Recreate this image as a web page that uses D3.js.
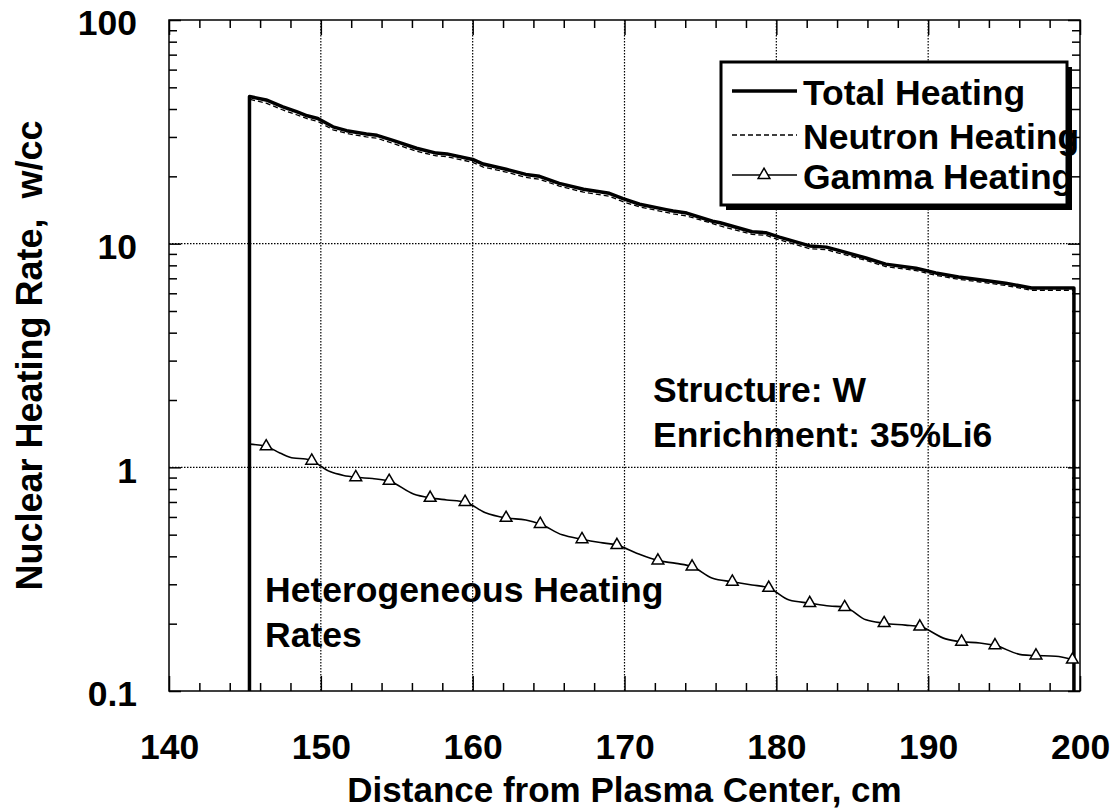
<!DOCTYPE html>
<html>
<head>
<meta charset="utf-8">
<script src="https://cdn.jsdelivr.net/npm/d3@7"></script>
<style>
  body { margin: 0; background: #fff; }
  text { font-family: "Liberation Sans", Arial, sans-serif; font-weight: bold; fill: #000; }
</style>
</head>
<body>
<div id="chart"></div>
<script>
// Heating rate data
const totalX = [145.3, 145.3, 146.4, 147.5, 148.4, 149.1, 149.8, 150.8, 151.7, 153.0, 153.7, 154.8, 156.3, 157.6, 158.3,
  160.0, 160.7, 162.2, 163.5, 164.4, 165.7, 167.3, 169.0, 169.9, 171.0, 172.75, 173.2, 174.1, 175.8, 176.3, 178.4, 179.3,
  180.2, 182.2, 183.3, 184.1, 185.9, 187.2, 189.2, 190.5, 192.0, 193.4, 195.1, 196.8, 199.6, 199.6];
const totalY = [0.01, 45.5, 43.9, 40.9, 38.9, 37.3, 36.3, 33.3, 32.0, 30.9, 30.5, 28.9, 26.7, 25.4, 25.2,
  23.8, 22.7, 21.5, 20.4, 20.0, 18.6, 17.5, 16.8, 15.9, 15.0, 14.2, 14.0, 13.7, 12.6, 12.4, 11.3, 11.2,
  10.7, 9.77, 9.65, 9.33, 8.63, 8.1, 7.77, 7.4, 7.1, 6.9, 6.66, 6.33, 6.33, 0.01];
const neutronY = [0.01, 44.2, 42.5, 39.6, 37.7, 36.2, 35.2, 32.3, 31.1, 30.0, 29.6, 28.0, 25.9, 24.7, 24.5,
  23.1, 22.0, 20.9, 19.8, 19.4, 18.1, 17.0, 16.3, 15.4, 14.6, 13.8, 13.6, 13.3, 12.3, 12.0, 11.0, 10.9,
  10.4, 9.5, 9.4, 9.08, 8.42, 7.9, 7.58, 7.22, 6.93, 6.74, 6.5, 6.19, 6.19, 0.01];

const gammaX = [145.3, 146.4, 147.3, 148.2, 149.0, 149.4, 150.6, 151.5, 152.3, 153.4, 154.5, 156.1, 157.2, 158.3, 159.5,
  160.8, 162.2, 163.5, 164.45, 165.9, 167.2, 168.4, 169.5, 170.8, 172.2, 173.4, 174.45, 175.8, 177.1, 178.4, 179.5,
  180.85, 182.2, 183.5, 184.5, 185.9, 187.1, 188.5, 189.45, 191.15, 192.2, 193.4, 194.4, 196.2, 197.1, 198.4, 199.5];
const gammaY = [1.27, 1.24, 1.16, 1.10, 1.09, 1.07, 0.957, 0.92, 0.903, 0.891, 0.869, 0.760, 0.73, 0.715, 0.70,
  0.628, 0.594, 0.582, 0.558, 0.499, 0.477, 0.461, 0.449, 0.413, 0.383, 0.372, 0.360, 0.319, 0.308, 0.298, 0.289,
  0.255, 0.247, 0.240, 0.237, 0.208, 0.201, 0.197, 0.194, 0.171, 0.166, 0.164, 0.160, 0.145, 0.144, 0.143, 0.138];
const gammaMarkX = [146.4, 149.4, 152.3, 154.5, 157.2, 159.5, 162.2, 164.45, 167.2, 169.5, 172.2, 174.45,
  177.1, 179.5, 182.2, 184.5, 187.1, 189.45, 192.2, 194.4, 197.1, 199.5];
const gammaMarkY = [1.24, 1.07, 0.903, 0.869, 0.73, 0.70, 0.594, 0.558, 0.477, 0.449, 0.383, 0.360,
  0.308, 0.289, 0.247, 0.237, 0.201, 0.194, 0.166, 0.160, 0.144, 0.138];

const xTicks = [140, 150, 160, 170, 180, 190, 200];
const yTicks = [0.1, 1, 10, 100];
const legendLabels = ['Total Heating', 'Neutron Heating', 'Gamma Heating'];
const noteLines = ['Structure: W', 'Enrichment: 35%Li6'];
const noteLines2 = ['Heterogeneous Heating', 'Rates'];

const width = 1120, height = 810;
const margin = { left: 169, top: 20, right: 40, bottom: 119 };
const plotW = width - margin.left - margin.right;
const plotH = height - margin.top - margin.bottom;
const FONT = '35.5px';

const svg = d3.select('#chart').append('svg')
  .attr('width', width).attr('height', height);

const x = d3.scaleLinear().domain([140, 200]).range([0, plotW]);
const y = d3.scaleLog().domain([0.1, 100]).range([plotH, 0]);

const g = svg.append('g').attr('transform', `translate(${margin.left},${margin.top})`);

g.append('clipPath').attr('id', 'plot-clip')
  .append('rect').attr('width', plotW).attr('height', plotH);

// grid (dotted, majors only)
g.append('g').selectAll('line')
  .data(xTicks.slice(1, -1)).enter().append('line')
  .attr('x1', d => x(d)).attr('x2', d => x(d))
  .attr('y1', 0).attr('y2', plotH)
  .attr('stroke', '#000').attr('stroke-width', 1.2).attr('stroke-dasharray', '1.5,1.5');
g.append('g').selectAll('line')
  .data(yTicks.slice(1, -1)).enter().append('line')
  .attr('y1', d => y(d)).attr('y2', d => y(d))
  .attr('x1', 0).attr('x2', plotW)
  .attr('stroke', '#000').attr('stroke-width', 1.2).attr('stroke-dasharray', '1.5,1.5');

// ticks
const xMinor = d3.range(140, 201, 2).filter(d => d % 10 !== 0);
const yMinor = [];
[0.1, 1, 10].forEach(dec => { for (let k = 2; k <= 9; k++) yMinor.push(dec * k); });

function styleAxis (sel) {
  sel.select('.domain').remove();
  sel.selectAll('line').attr('stroke', '#000').attr('stroke-width', 1.5);
  sel.selectAll('text').style('font-size', FONT);
}

g.append('g').attr('transform', `translate(0,${plotH})`)
  .call(d3.axisBottom(x).tickValues(xTicks).tickSizeInner(-15).tickSizeOuter(0)
    .tickPadding(43).tickFormat(d3.format('d')))
  .call(styleAxis);
g.append('g').attr('transform', `translate(0,${plotH})`)
  .call(d3.axisBottom(x).tickValues(xMinor).tickSize(-8).tickFormat(''))
  .call(styleAxis);
g.append('g')
  .call(d3.axisTop(x).tickValues(xTicks).tickSize(-15).tickFormat(''))
  .call(styleAxis);
g.append('g')
  .call(d3.axisTop(x).tickValues(xMinor).tickSize(-8).tickFormat(''))
  .call(styleAxis);

g.append('g')
  .call(d3.axisLeft(y).tickValues(yTicks).tickSizeInner(-12).tickSizeOuter(0)
    .tickPadding(32).tickFormat(d3.format('~g')))
  .call(styleAxis)
  .selectAll('text').attr('dy', '0.42em');
g.append('g')
  .call(d3.axisLeft(y).tickValues(yMinor).tickSize(-8).tickFormat(''))
  .call(styleAxis);
g.append('g').attr('transform', `translate(${plotW},0)`)
  .call(d3.axisRight(y).tickValues(yTicks).tickSize(-12).tickFormat(''))
  .call(styleAxis);
g.append('g').attr('transform', `translate(${plotW},0)`)
  .call(d3.axisRight(y).tickValues(yMinor).tickSize(-8).tickFormat(''))
  .call(styleAxis);

// frame
g.append('rect').attr('width', plotW).attr('height', plotH)
  .attr('fill', 'none').attr('stroke', '#000').attr('stroke-width', 1.5);

// series
const data = g.append('g').attr('clip-path', 'url(#plot-clip)');

const stepLine = d3.line().x(d => x(d[0])).y(d => y(d[1]));
const smoothLine = d3.line().x(d => x(d[0])).y(d => y(d[1])).curve(d3.curveMonotoneX);

data.append('path')
  .datum(totalX.map((v, i) => [v, neutronY[i]]))
  .attr('d', stepLine)
  .attr('fill', 'none').attr('stroke', '#000').attr('stroke-width', 1.3)
  .attr('stroke-dasharray', '5,3');

data.append('path')
  .datum(totalX.map((v, i) => [v, totalY[i]]))
  .attr('d', stepLine)
  .attr('fill', 'none').attr('stroke', '#000').attr('stroke-width', 3.5)
  .attr('stroke-linejoin', 'round');

data.append('path')
  .datum(gammaX.map((v, i) => [v, gammaY[i]]))
  .attr('d', smoothLine)
  .attr('fill', 'none').attr('stroke', '#000').attr('stroke-width', 1.6);

const tri = d3.symbol().type(d3.symbolTriangle).size(60);
data.selectAll('.marker')
  .data(gammaMarkX.map((v, i) => [v, gammaMarkY[i]]))
  .enter().append('path')
  .attr('class', 'marker')
  .attr('d', tri)
  .attr('transform', d => `translate(${x(d[0])},${y(d[1])})`)
  .attr('fill', '#fff').attr('stroke', '#000').attr('stroke-width', 1.5);

// annotations
g.append('text').attr('x', 653 - margin.left).attr('y', 402 - margin.top)
  .style('font-size', FONT)
  .selectAll('tspan').data(noteLines).enter().append('tspan')
  .attr('x', 653 - margin.left).attr('dy', (d, i) => i ? 45 : 0).text(d => d);

g.append('text').attr('x', 265 - margin.left).attr('y', 602 - margin.top)
  .style('font-size', FONT)
  .selectAll('tspan').data(noteLines2).enter().append('tspan')
  .attr('x', 265 - margin.left).attr('dy', (d, i) => i ? 45 : 0).text(d => d);

// legend
const lg = svg.append('g').attr('transform', 'translate(721,62)');
lg.append('rect').attr('x', 5).attr('y', 5).attr('width', 346).attr('height', 143).attr('fill', '#000');
lg.append('rect').attr('width', 346).attr('height', 143)
  .attr('fill', '#fff').attr('stroke', '#000').attr('stroke-width', 3);

const rows = lg.selectAll('.row').data(legendLabels).enter().append('g')
  .attr('class', 'row')
  .attr('transform', (d, i) => `translate(0,${[29, 73, 113][i]})`);

rows.append('line').attr('x1', 11).attr('x2', 76)
  .attr('stroke', '#000')
  .attr('stroke-width', (d, i) => [3.5, 1.3, 1.6][i])
  .attr('stroke-dasharray', (d, i) => i === 1 ? '5,3' : null);
rows.filter((d, i) => i === 2).append('path')
  .attr('d', tri).attr('transform', 'translate(43,0)')
  .attr('fill', '#fff').attr('stroke', '#000').attr('stroke-width', 1.5);
rows.append('text').attr('x', 82).attr('y', 14)
  .style('font-size', FONT).text(d => d);

// axis titles
svg.append('text')
  .attr('x', margin.left + plotW / 2).attr('y', 802)
  .attr('text-anchor', 'middle').style('font-size', '35px')
  .text('Distance from Plasma Center, cm');

svg.append('text')
  .attr('transform', `translate(42,${margin.top + plotH / 2}) rotate(-90)`)
  .attr('text-anchor', 'middle').style('font-size', '36px')
  .style('white-space', 'pre')
  .text('Nuclear Heating Rate,  w/cc');
</script>
</body>
</html>
